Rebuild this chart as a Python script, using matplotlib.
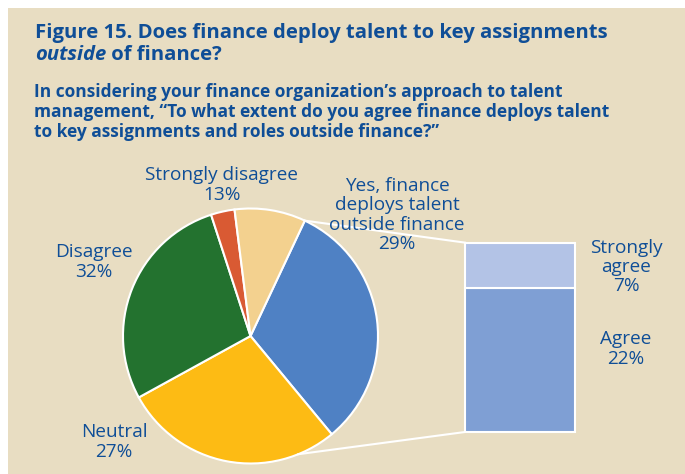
import matplotlib
matplotlib.use('Agg')
import matplotlib.pyplot as plt
import numpy as np

plt.rcParams['font.family'] = ['Open Sans', 'DejaVu Sans']

# ---- data
pie_values = [32, 28, 28, 3, 9]          # blue, yellow, green, red, peach (slice sizes as drawn)
pie_colors = ['#4F81C4', '#FDBB14', '#23722F', '#D95A33', '#F3D18F']
bar_labels = ['Agree\n22%', 'Strongly\nagree\n7%']
bar_values = [22, 7]
bar_colors = ['#7F9FD4', '#B3C3E6']

title_line1 = "Figure 15. Does finance deploy talent to key assignments"
title_italic = "outside"
title_rest = " of finance?"
subtitle = ("In considering your finance organization\u2019s approach to talent\n"
            "management, \u201cTo what extent do you agree finance deploys talent\n"
            "to key assignments and roles outside finance?\u201d")

txt_color = '#0F4E97'
bg = '#E8DDC2'

W, H = 685, 474
fig = plt.figure(figsize=(W / 100, H / 100), dpi=100)
fig.patch.set_facecolor('white')
ax = fig.add_axes([0, 0, 1, 1])
ax.set_xlim(0, W)
ax.set_ylim(0, H)
ax.set_aspect('equal')
ax.axis('off')

# beige panel
ax.add_patch(plt.Rectangle((8, 0), W - 8, H - 8, facecolor=bg, edgecolor='none', zorder=0))

# titles
ax.text(35, H - 33, title_line1, fontsize=14.6, fontweight='bold', color=txt_color,
        va='center', ha='left')
t_it = ax.text(35, H - 55, title_italic, fontsize=14.6, fontweight='bold', style='italic',
               color=txt_color, va='center', ha='left')
fig.canvas.draw()
bb = t_it.get_window_extent(fig.canvas.get_renderer())
ax.text(bb.x1, H - 55, title_rest, fontsize=14.6, fontweight='bold', color=txt_color,
        va='center', ha='left')
ax.text(34, H - 112, subtitle, fontsize=12.5, fontweight='bold', color=txt_color,
        va='center', ha='left', linespacing=1.17)

# pie
cx, cy, r = 250.5, H - 336, 127.5
start = 64.8
ax.pie(pie_values, colors=pie_colors, startangle=start, counterclock=False,
       center=(cx, cy), radius=r, frame=True,
       wedgeprops=dict(edgecolor='white', linewidth=1.5))
ax.set_xlim(0, W)
ax.set_ylim(0, H)
ax.axis('off')

# bar of the "yes" slice
bx0, bw, by0 = 465, 110, 42
scale = 6.53
bottom = by0
for v, c in zip(bar_values, bar_colors):
    ax.bar(bx0 + bw / 2, v * scale, width=bw, bottom=bottom, color=c,
           edgecolor='white', linewidth=1.5, zorder=3)
    bottom += v * scale

# connector lines
a1 = np.deg2rad(start)
a2 = np.deg2rad(-68)
ax.plot([cx + r * np.cos(a1), bx0], [cy + r * np.sin(a1), bottom], color='white', lw=1.5, zorder=2)
ax.plot([cx + r * np.cos(a2), bx0], [cy + r * np.sin(a2), by0], color='white', lw=1.5, zorder=2)

# labels
lab = dict(fontsize=13.7, color=txt_color, ha='center', va='center', linespacing=1.1)
ax.text(222, H - 185, "Strongly disagree\n13%", **lab)
ax.text(397, H - 215, "Yes, finance\ndeploys talent\noutside finance\n29%", **lab)
ax.text(94, H - 262, "Disagree\n32%", **lab)
ax.text(114, H - 442, "Neutral\n27%", **lab)
ax.text(626, H - 267, bar_labels[1], **lab)
ax.text(626, H - 349, bar_labels[0], **lab)

fig.savefig('out.png', dpi=100, facecolor=fig.get_facecolor())
